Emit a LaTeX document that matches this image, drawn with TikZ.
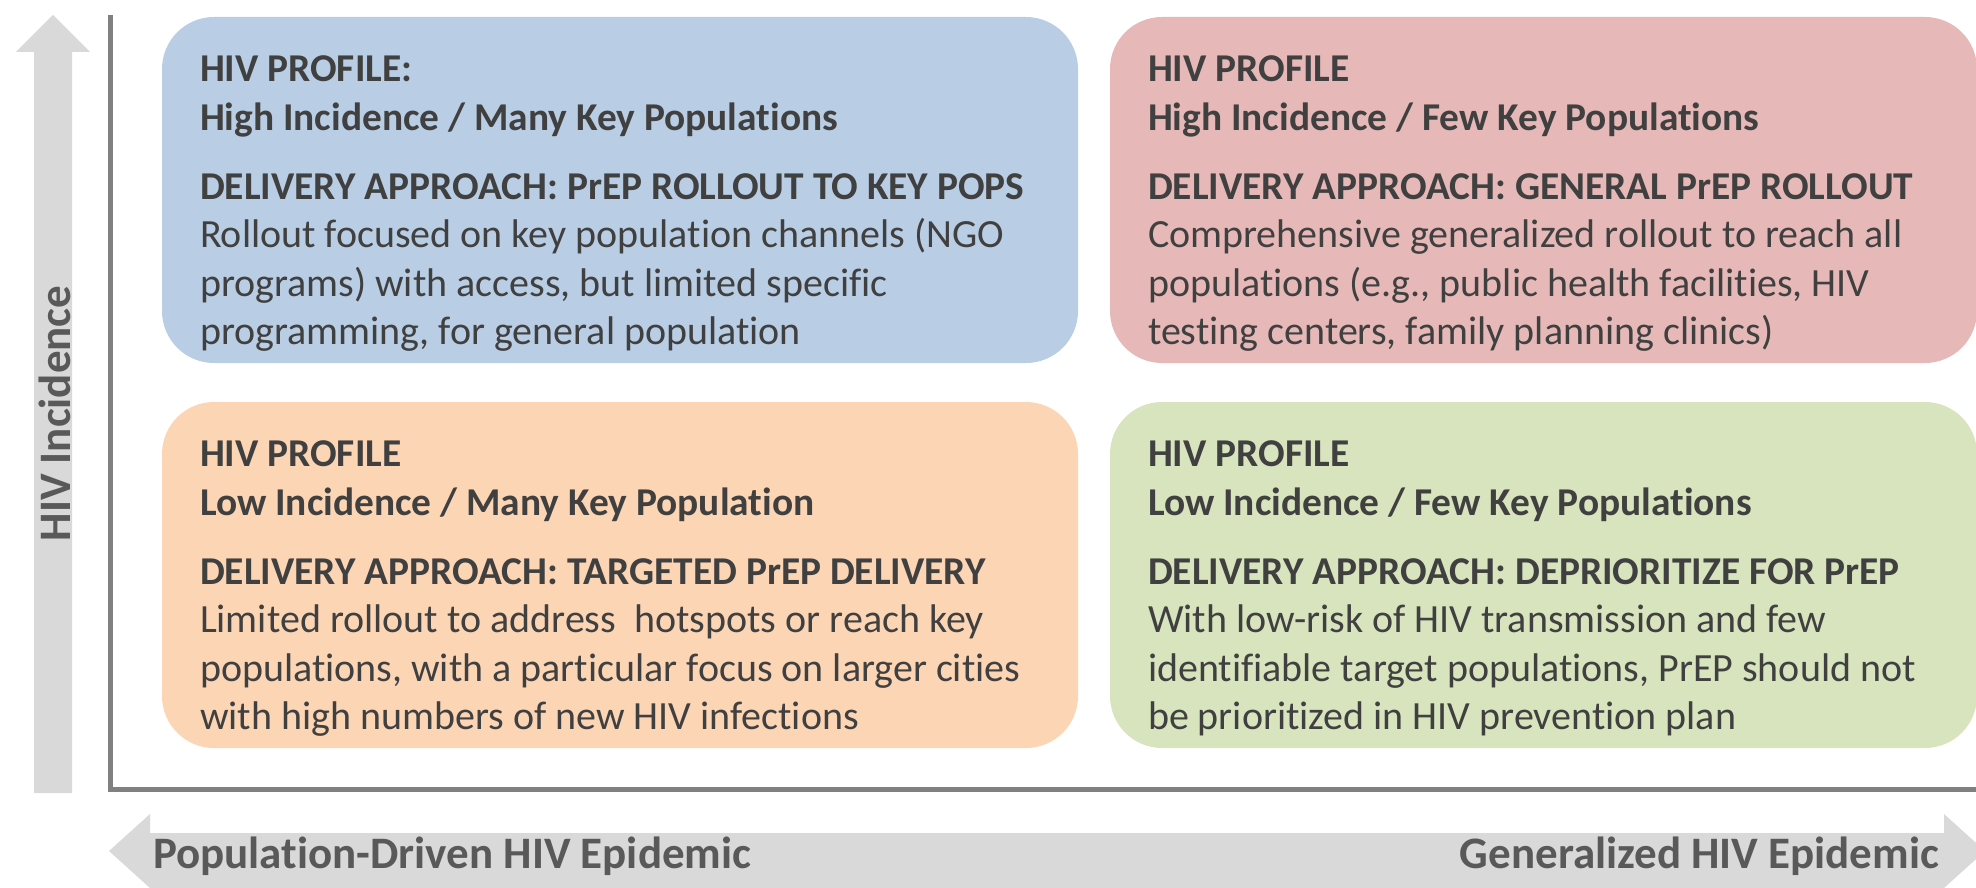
\documentclass[tikz,border=0pt]{standalone}
\usepackage{fontspec}
\setmainfont{Carlito}[Ligatures=NoCommon]
\usetikzlibrary{positioning}

\definecolor{boxblue}{HTML}{B9CDE5}
\definecolor{boxred}{HTML}{E6B9B8}
\definecolor{boxorange}{HTML}{FCD5B5}
\definecolor{boxgreen}{HTML}{D7E4BD}
\definecolor{arrowgray}{HTML}{D9D9D9}
\definecolor{axisgray}{HTML}{808080}
\definecolor{textgray}{HTML}{404040}
\definecolor{labelgray}{HTML}{595959}

\newcommand{\quadhead}[1]{{\fontsize{39.4}{48.6}\selectfont\bfseries #1}}

\begin{document}
\begin{tikzpicture}[x=1pt, y=-1pt, inner sep=0pt, outer sep=0pt,
	quad/.style={rounded corners=52pt, minimum width=916pt, minimum height=346pt, anchor=north west},
	quadtext/.style={align=left, text=textgray, font=\fontsize{40}{48.6}\selectfont},
	axislabel/.style={text=labelgray, font=\fontsize{45}{53}\selectfont\bfseries}]
	\useasboundingbox (0,0) rectangle (1976,888);
	\clip (0,0) rectangle (1976,888);

	% arrows behind the axes
	\fill[arrowgray] (53,15) -- (90,52) -- (72,52) -- (72,793) -- (34,793) -- (34,52) -- (16,52) -- cycle;
	\fill[arrowgray] (109,851) -- (150,814) -- (150,833) -- (1944,833) -- (1944,814) -- (1985,851) -- (1944,888) -- (1944,900) -- (150,900) -- (150,888) -- cycle;

	% axes
	\coordinate (top) at (110.5,15);
	\coordinate (origin) at (110.5,789.5);
	\coordinate (right) at (1976,789.5);
	\draw[axisgray, line width=5pt] (top) -- (origin) -- (right);

	\node[axislabel, rotate=90, anchor=base] (incidence) at (70,413.5) {HIV Incidence};
	\node[axislabel, anchor=base west] (popdriven) at (153,868) {Population-Driven HIV Epidemic};
	\node[axislabel, anchor=base east] (generalized) at (1939,868) {Generalized HIV Epidemic};

	% quadrants
	\node[quad, fill=boxblue] (highmany) at (162,17) {};
	\node[quad, fill=boxred, minimum width=867pt] (highfew) at (1110,17) {};
	\node[quad, fill=boxorange] (lowmany) at (162,402) {};
	\node[quad, fill=boxgreen, minimum width=867pt] (lowfew) at (1110,402) {};

	\node[quadtext, below right=39pt and 38pt of highmany.north west] (highmanytext) {\quadhead{HIV PROFILE:}\\\quadhead{High Incidence / Many Key Populations}\\[20pt]
		\quadhead{DELIVERY APPROACH: PrEP ROLLOUT TO KEY POPS}\\Rollout focused on key population channels (NGO\\programs) with access, but limited specific\\programming, for general population};
	\node[quadtext, below right=39pt and 38pt of highfew.north west] (highfewtext) {\quadhead{HIV PROFILE}\\\quadhead{High Incidence / Few Key Populations}\\[20pt]
		\quadhead{DELIVERY APPROACH: GENERAL PrEP ROLLOUT}\\Comprehensive generalized rollout to reach all\\populations (e.g., public health facilities, HIV\\testing centers, family planning clinics)};
	\node[quadtext, below right=39pt and 38pt of lowmany.north west] (lowmanytext) {\quadhead{HIV PROFILE}\\\quadhead{Low Incidence / Many Key Population}\\[20pt]
		\quadhead{DELIVERY APPROACH: TARGETED PrEP DELIVERY}\\Limited rollout to address\ \ hotspots or reach key\\populations, with a particular focus on larger cities\\with high numbers of new HIV infections};
	\node[quadtext, below right=39pt and 38pt of lowfew.north west] (lowfewtext) {\quadhead{HIV PROFILE}\\\quadhead{Low Incidence / Few Key Populations}\\[20pt]
		\quadhead{DELIVERY APPROACH: DEPRIORITIZE FOR PrEP}\\With low-risk of HIV transmission and few\\identifiable target populations, PrEP should not\\be prioritized in HIV prevention plan};
\end{tikzpicture}
\end{document}
